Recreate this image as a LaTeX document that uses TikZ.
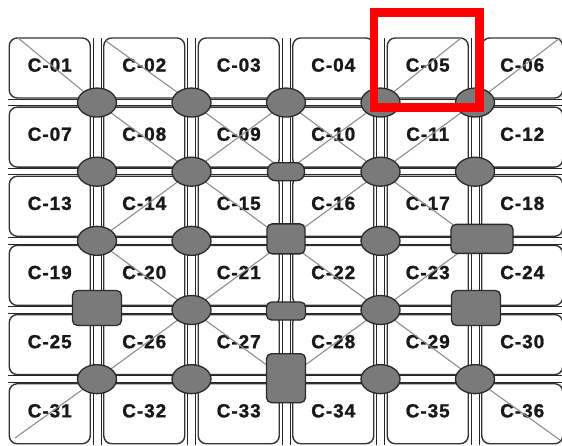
\documentclass[tikz,border=0pt]{standalone}
\usepackage{fontspec}
\newfontfamily\labfont[LetterSpace=5,FakeBold=1.2]{Liberation Sans Bold}
\usetikzlibrary{shapes.geometric}
\definecolor{jfill}{HTML}{7A7A7A}
\definecolor{jline}{HTML}{2A2A2A}
\definecolor{cline}{HTML}{333333}
\definecolor{dline}{HTML}{8E8E8E}
\begin{document}
\begin{tikzpicture}[x=1pt,y=-1pt,
 cell/.style={draw=cline, line width=1.4pt, fill=white, rounded corners=8pt, minimum width=81pt, minimum height=60pt, inner sep=0pt, font=\labfont\fontsize{19}{19}\selectfont, text=black!90, text depth=6pt},
 chan/.style={draw=black!85, line width=1pt},
 diag/.style={draw=dline, line width=1.1pt},
 jell/.style={ellipse, draw=jline, line width=1.3pt, fill=jfill, minimum width=39pt, minimum height=29pt, inner sep=0pt},
 jbox/.style={rectangle, rounded corners=5pt, draw=jline, line width=1.3pt, fill=jfill, inner sep=0pt},
]
\useasboundingbox (0,0) rectangle (562,445);
% junction grid
\foreach \r in {0,...,6}{
  \foreach \c in {0,...,6}{
    \coordinate (p\r\c) at ({2.5+94.5*\c},{33.4+69.15*\r});
  }
}
% free ends of the corner diagonals
\coordinate (e01) at (18,38);
\coordinate (e02) at (106,41);
\coordinate (e05) at (461,38);
\coordinate (e06) at (560,38);
\coordinate (e31) at (15,438);
\coordinate (e36) at (560,440);
% cells
\foreach \r in {1,...,6}{
  \foreach \c in {1,...,6}{
    \pgfmathtruncatemacro\n{(\r-1)*6+\c}
    \node[cell] (c\r\c) at ({49.75+94.5*(\c-1)},{67.975+69.15*(\r-1)}) {C-\ifnum\n<10 0\fi\n};
  }
}
% channels
\foreach \k in {1,...,5}{
  \draw[chan] ({2.5+94.5*\k-4},38) -- ({2.5+94.5*\k-4},445);
  \draw[chan] ({2.5+94.5*\k+4},38) -- ({2.5+94.5*\k+4},445);
  \draw[chan] (8,{33.4+69.15*\k-3.2}) -- (562,{33.4+69.15*\k-3.2});
  \draw[chan] (8,{33.4+69.15*\k+3.2}) -- (562,{33.4+69.15*\k+3.2});
}
% diagonals
\draw[diag] (e01) -- (p11);
\draw[diag] (e02) -- (p12);
\draw[diag] (p11) -- (p22);
\draw[diag] (p12) -- (p23);
\draw[diag] (p13) -- (p24);
\draw[diag] (p22) -- (p33);
\draw[diag] (p24) -- (p35);
\draw[diag] (p31) -- (p42);
\draw[diag] (p33) -- (p44);
\draw[diag] (p42) -- (p53);
\draw[diag] (p44) -- (p55);
\draw[diag] (p55) -- (e36);
\draw[diag] (p14) -- (e05);
\draw[diag] (p15) -- (e06);
\draw[diag] (p22) -- (p13);
\draw[diag] (p23) -- (p14);
\draw[diag] (p24) -- (p15);
\draw[diag] (p31) -- (p22);
\draw[diag] (p33) -- (p24);
\draw[diag] (p42) -- (p33);
\draw[diag] (p44) -- (p35);
\draw[diag] (p51) -- (p42);
\draw[diag] (p53) -- (p44);
\draw[diag] (e31) -- (p51);
% junctions
\foreach \q in {11,12,13,14,15,21,22,24,25,31,32,34,42,44,51,52,54,55}{
  \node[jell] (j\q) at (p\q) {};
}
\node[jbox, rounded corners=8pt, minimum width=37pt, minimum height=18pt] (j23) at (p23) {};
\node[jbox, minimum width=38pt, minimum height=30pt] (j33) at ([yshift=2pt]p33) {};
\node[jbox, minimum width=62pt, minimum height=29pt] (j35) at ([xshift=7pt,yshift=2pt]p35) {};
\node[jbox, minimum width=49pt, minimum height=35pt] (j41) at ([yshift=2pt]p41) {};
\node[jbox, minimum width=39pt, minimum height=18pt] (j43) at ([yshift=-1pt]p43) {};
\node[jbox, minimum width=49pt, minimum height=35pt] (j45) at ([xshift=1pt,yshift=2pt]p45) {};
\node[jbox, minimum width=39pt, minimum height=49pt] (j53) at ([yshift=1pt]p53) {};
% highlight frame
\draw[red, line width=8.5pt] (374,12.5) rectangle (479.5,107.5);
\end{tikzpicture}
\end{document}
